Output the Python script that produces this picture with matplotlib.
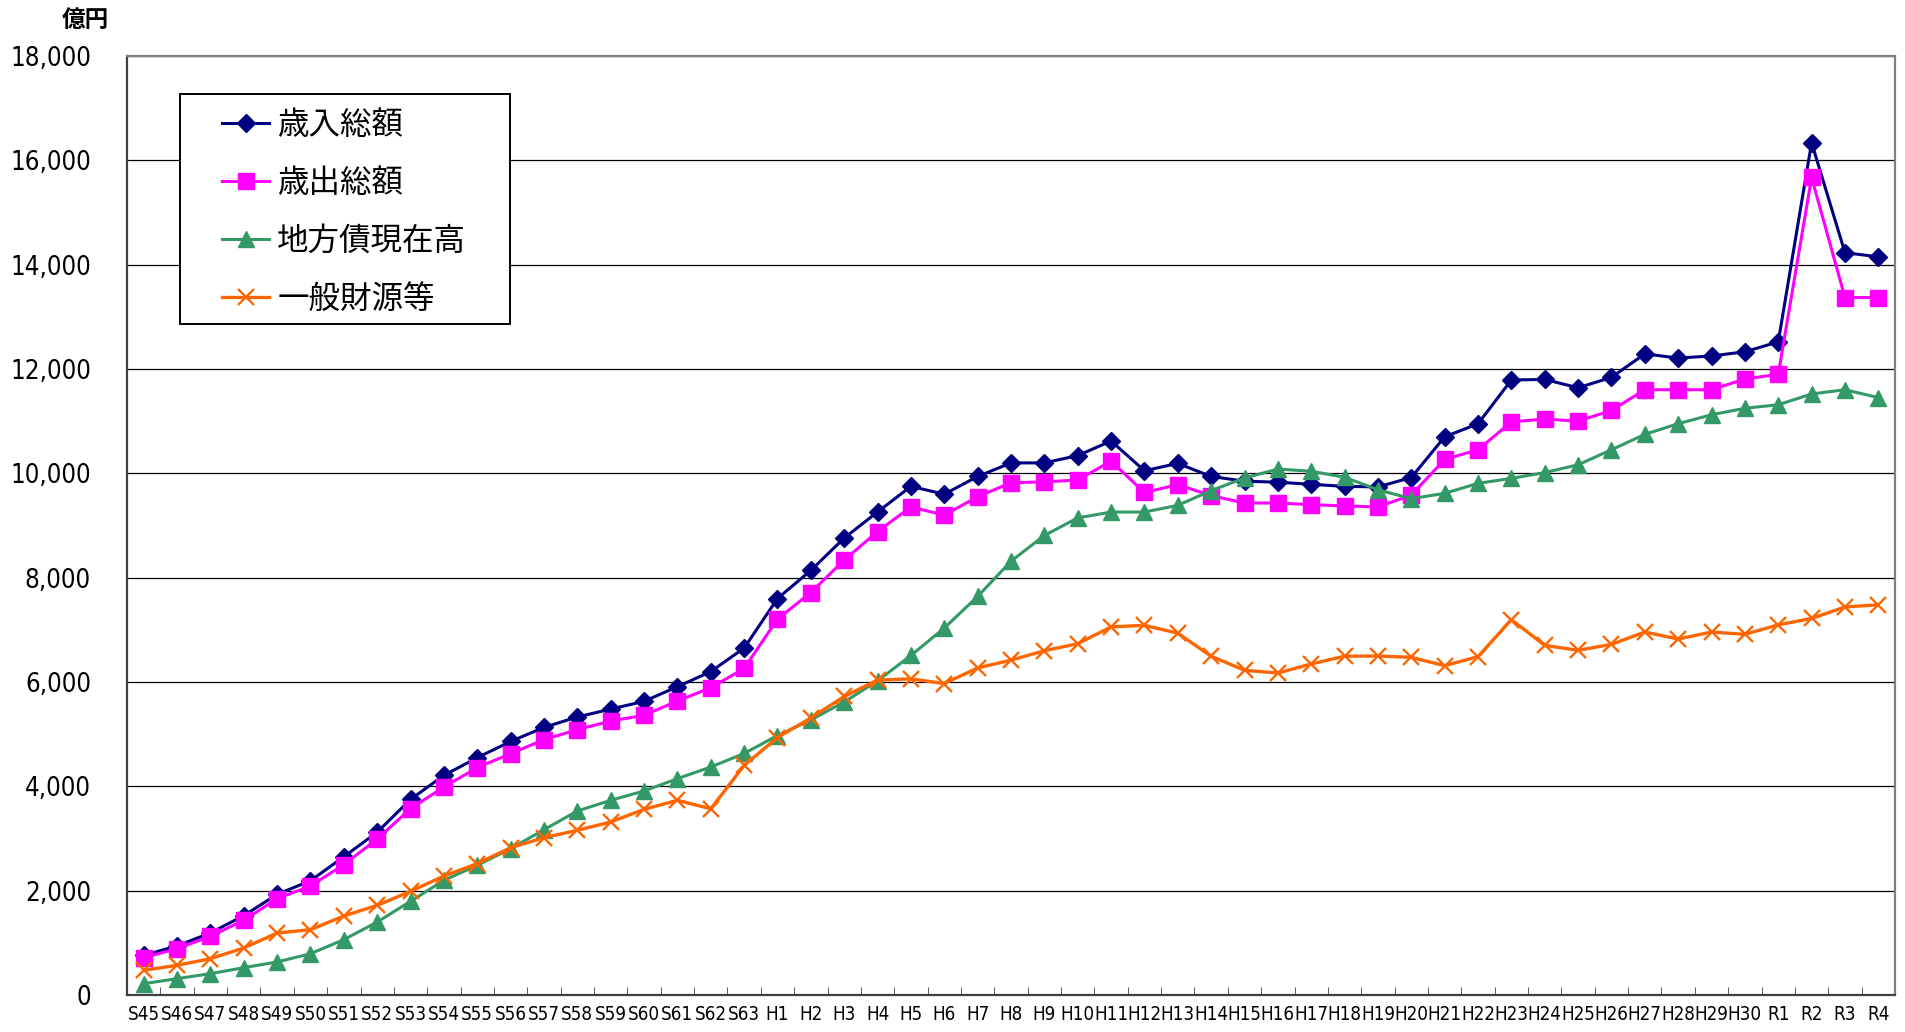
import numpy as np
import matplotlib
matplotlib.use('Agg')
from matplotlib import pyplot as plt
from matplotlib.patches import Rectangle
from matplotlib.ticker import FixedLocator, FuncFormatter

plt.rcParams['font.family'] = ['Noto Sans CJK JP', 'DejaVu Sans']

# 年度ラベル
showa = ['S%d' % y for y in range(45, 64)]
heisei = ['H%d' % y for y in range(1, 31)]
reiwa = ['R%d' % y for y in range(1, 5)]
years = showa + heisei + reiwa

# 億円
revenue = [760, 940, 1190, 1520, 1930, 2190, 2650, 3120, 3750, 4210,
           4550, 4860, 5130, 5330, 5480, 5630, 5910, 6200, 6650,
           7600, 8140, 8760, 9260, 9750, 9600, 9940, 10200, 10200, 10340,
           10620, 10050, 10190, 9940, 9850, 9830, 9790, 9750, 9740, 9920,
           10700, 10950, 11790, 11800, 11640, 11840, 12290, 12210, 12250, 12330,
           12520, 16340, 14230, 14150]
expenditure = [716, 888, 1125, 1431, 1847, 2089, 2498, 2990, 3572, 3987,
               4358, 4626, 4895, 5086, 5252, 5361, 5636, 5890, 6260,
               7206, 7715, 8337, 8884, 9356, 9199, 9551, 9820, 9835, 9873,
               10232, 9633, 9783, 9573, 9431, 9431, 9400, 9375, 9356, 9582,
               10267, 10452, 10986, 11041, 11000, 11205, 11603, 11603, 11603, 11808,
               11897, 15671, 13370, 13370]
debt = [217, 313, 409, 524, 633, 792, 1061, 1399, 1796, 2198,
        2486, 2805, 3169, 3527, 3732, 3911, 4147, 4371, 4630,
        4974, 5273, 5618, 6022, 6509, 7034, 7640, 8315, 8809, 9146,
        9258, 9258, 9386, 9670, 9910, 10082, 10040, 9925, 9685, 9514,
        9616, 9808, 9904, 10014, 10164, 10452, 10747, 10952, 11123, 11247,
        11315, 11521, 11603, 11452]
general = [473, 569, 696, 901, 1188, 1252, 1514, 1719, 1987, 2281,
           2518, 2824, 3016, 3157, 3316, 3559, 3732, 3570, 4400,
           4936, 5311, 5723, 6037, 6060, 5970, 6270, 6419, 6599, 6734,
           7056, 7086, 6936, 6494, 6225, 6172, 6345, 6495, 6498, 6473,
           6313, 6486, 7195, 6703, 6607, 6722, 6958, 6824, 6958, 6914,
           7096, 7219, 7438, 7479]

names = ['歳入総額', '歳出総額', '地方債現在高', '一般財源等']

x = np.arange(len(years))

fig = plt.figure(figsize=(19.05, 10.32), dpi=100)
ax = fig.add_axes([127 / 1905, 37 / 1032, 1768 / 1905, 939 / 1032])

ax.plot(x, revenue, color='#000080', lw=2.2, marker='D', ms=9, label=names[0])
ax.plot(x, expenditure, color='#FF00FF', lw=2.2, marker='s', ms=11, label=names[1])
ax.plot(x, debt, color='#339966', lw=2.2, marker='^', ms=11, label=names[2])
ax.plot(x, general, color='#FF6600', lw=2.4, marker='x', ms=11, mew=1.7, label=names[3])

ax.set_xlim(-0.5, len(years) - 0.5)
ax.set_ylim(0, 18000)
ax.set_yticks(np.arange(0, 18001, 2000))
ax.yaxis.set_major_formatter(FuncFormatter(lambda v, p: '{:,}'.format(int(v))))
ax.grid(axis='y', color='black', lw=0.9)
ax.set_axisbelow(True)
ax.tick_params(axis='y', length=0, pad=26, labelsize=18.5)

ax.set_xticks(x)
ax.set_xticklabels(years, family='DejaVu Sans', stretch='condensed')
ax.xaxis.set_minor_locator(FixedLocator(np.arange(0.5, len(years) - 0.5, 1)))
ax.tick_params(axis='x', which='major', length=0, pad=7, labelsize=13.5)
ax.tick_params(axis='x', which='minor', direction='in', length=6, color='#404040')
for t in ax.get_yticklabels():
    t.set_family('DejaVu Sans')
    t.set_stretch('condensed')

for s in ax.spines.values():
    s.set_color('#808080')
    s.set_linewidth(1.6)
ax.spines['bottom'].set_color('#404040')
ax.spines['left'].set_color('#404040')

fig.text(85 / 1905, 1 - 20 / 1032, '億円', ha='center', va='center', fontsize=17,
         fontweight='bold', family=['Noto Sans CJK JP'])

# 凡例の枠は別に描く
ax.add_patch(Rectangle((180 / 1905, 1 - 324 / 1032), 330 / 1905, 230 / 1032,
                       transform=fig.transFigure, facecolor='white',
                       edgecolor='black', lw=1.4, zorder=4, clip_on=False))
leg = ax.legend(loc='upper left', bbox_to_anchor=(222 / 1905, 1 - 109 / 1032),
                bbox_transform=fig.transFigure, borderaxespad=0, frameon=False,
                prop={'family': 'Noto Sans CJK JP', 'size': 22.7},
                handlelength=1.5, handletextpad=0.25, labelspacing=0.82, borderpad=0)
leg.set_zorder(6)

fig.savefig('out.png', dpi=100)
